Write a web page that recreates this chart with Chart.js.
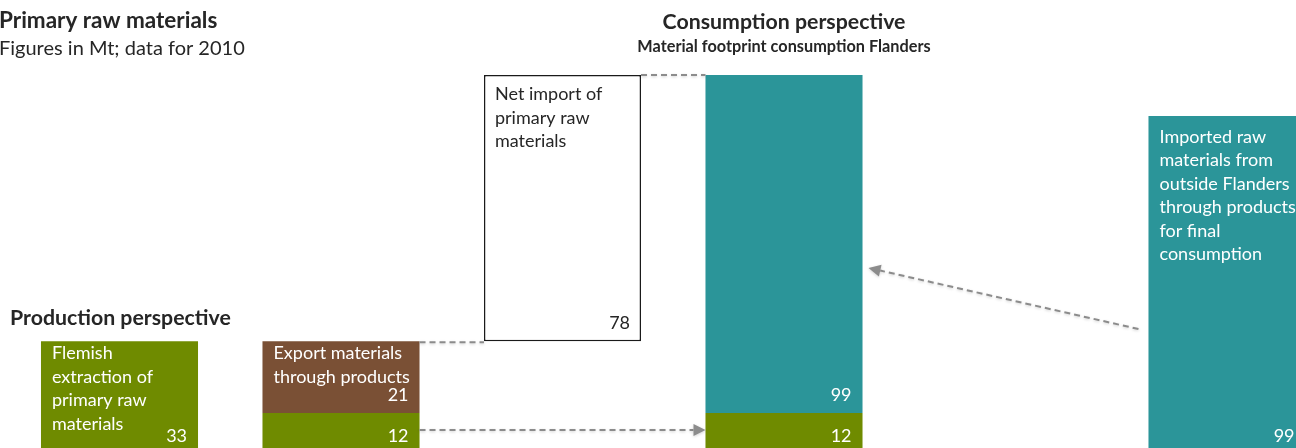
<!DOCTYPE html>
<html>
<head>
<meta charset="utf-8">
<script src="https://cdn.jsdelivr.net/npm/chart.js@4"></script>
<style>
  html, body { margin: 0; padding: 0; width: 1296px; height: 448px; overflow: hidden; background: #fff; }
  #wrap { position: absolute; left: 0; top: 0; width: 1400px; height: 470px; }
</style>
</head>
<body>
<div id="wrap"><canvas id="flowChart"></canvas></div>
<script>
// Figures in Mt, data for 2010
const categories = ['Flemish extraction', 'Export through products', 'Net import', 'Material footprint', '', 'Imported for final consumption'];
const domestic = [33, 12, null, 12, null, null];
const exported = [null, 21, null, null, null, null];
const importBase = [null, null, 33, null, null, null];
const netImport = [null, null, 78, null, null, null];
const imported = [null, null, null, 99, null, 99];

const domesticText = [['Flemish', 'extraction of', 'primary raw', 'materials'], null, null, null, null, null];
const exportedText = [null, ['Export materials', 'through products'], null, null, null, null];
const netImportText = [null, null, ['Net import of', 'primary raw', 'materials'], null, null, null];
const importedText = [null, null, null, null, null, ['Imported raw', 'materials from', 'outside Flanders', 'through products', 'for final', 'consumption']];

const GREEN = '#6F8B00';
const BROWN = '#7A5035';
const TEAL = '#2B9599';
const FONT = 'Lato, "Open Sans", sans-serif';

function dashedArrow(ctx, x1, y1, x2, y2, head) {
    ctx.save();
    ctx.strokeStyle = '#8c8c8c';
    ctx.fillStyle = '#8c8c8c';
    ctx.lineWidth = 2;
    ctx.shadowColor = 'rgba(0,0,0,0.18)';
    ctx.shadowBlur = 3;
    ctx.shadowOffsetY = 1;
    const ang = Math.atan2(y2 - y1, x2 - x1);
    const len = head ? 12 : 0;
    ctx.setLineDash([6, 4]);
    ctx.beginPath();
    ctx.moveTo(x1, y1);
    ctx.lineTo(x2 - Math.cos(ang) * len, y2 - Math.sin(ang) * len);
    ctx.stroke();
    if (head) {
        ctx.setLineDash([]);
        ctx.beginPath();
        ctx.moveTo(x2, y2);
        ctx.lineTo(x2 - Math.cos(ang) * len - Math.sin(ang) * 6, y2 - Math.sin(ang) * len + Math.cos(ang) * 6);
        ctx.lineTo(x2 - Math.cos(ang) * len + Math.sin(ang) * 6, y2 - Math.sin(ang) * len - Math.cos(ang) * 6);
        ctx.closePath();
        ctx.fill();
    }
    ctx.restore();
}

const annotations = {
    id: 'annotations',
    afterDatasetsDraw(chart) {
        const ctx = chart.ctx;
        const y = chart.scales.y;

        // text inside the bars
        chart.data.datasets.forEach((ds, di) => {
            if (ds.skipLabels) return;
            const meta = chart.getDatasetMeta(di);
            meta.data.forEach((el, i) => {
                if (ds.data[i] == null) return;
                const left = el.x - el.width / 2;
                const right = el.x + el.width / 2;
                const top = Math.min(el.y, el.base);
                const bottom = Math.max(el.y, el.base);
                ctx.save();
                ctx.fillStyle = ds.textColor;
                ctx.font = '18px ' + FONT;
                ctx.textBaseline = 'alphabetic';
                const lines = ds.texts && ds.texts[i];
                if (lines) {
                    ctx.textAlign = 'left';
                    lines.forEach((t, k) => ctx.fillText(t, left + 11, top + ds.padTop + k * 23.5));
                }
                ctx.textAlign = 'right';
                ctx.fillText(String(ds.data[i]), right - 11, bottom - 12);
                ctx.restore();
            });
        });

        const m0 = chart.getDatasetMeta(0).data;
        const m1 = chart.getDatasetMeta(1).data;
        const m3 = chart.getDatasetMeta(3).data;
        const m4 = chart.getDatasetMeta(4).data;
        const rightOf = el => el.x + el.width / 2;
        const leftOf = el => el.x - el.width / 2;

        // export top -> net import bottom
        dashedArrow(ctx, rightOf(m1[1]), m1[1].y + 1, leftOf(m3[2]), m1[1].y + 1, false);
        // net import top -> footprint top
        dashedArrow(ctx, rightOf(m3[2]), m3[2].y, leftOf(m4[3]), m3[2].y, false);
        // domestic use -> footprint
        dashedArrow(ctx, rightOf(m0[1]), m0[1].y + 17, leftOf(m0[3]), m0[1].y + 17, true);
        // imported -> footprint
        dashedArrow(ctx, leftOf(m4[5]) - 10, y.getPixelForValue(36.6), rightOf(m4[3]) + 6, y.getPixelForValue(54.5), true);

        // titles
        ctx.save();
        ctx.fillStyle = '#262626';
        ctx.textBaseline = 'alphabetic';
        ctx.textAlign = 'left';
        ctx.font = 'bold 22.5px ' + FONT;
        ctx.fillText('Primary raw materials', -1, 28);
        ctx.font = '20px ' + FONT;
        ctx.fillText('Figures in Mt; data for 2010', -1, 55);
        ctx.font = 'bold 21.3px ' + FONT;
        ctx.fillText('Production perspective', 10, 325);
        ctx.textAlign = 'center';
        const cx = m4[3].x;
        ctx.fillText('Consumption perspective', cx, 29);
        ctx.font = 'bold 16.3px ' + FONT;
        ctx.fillText('Material footprint consumption Flanders', cx, 52);
        ctx.restore();
    }
};

new Chart(document.getElementById('flowChart'), {
    type: 'bar',
    data: {
        labels: categories,
        datasets: [
            { label: 'Flemish extraction', data: domestic, backgroundColor: GREEN, texts: domesticText, textColor: '#fff', padTop: 18 },
            { label: 'Export through products', data: exported, backgroundColor: BROWN, texts: exportedText, textColor: '#fff', padTop: 18 },
            { label: 'base', data: importBase, backgroundColor: 'rgba(0,0,0,0)', skipLabels: true },
            { label: 'Net import', data: netImport, backgroundColor: '#fff', borderColor: '#1a1a1a', borderWidth: 1.5, borderSkipped: false, texts: netImportText, textColor: '#262626', padTop: 25 },
            { label: 'Imported', data: imported, backgroundColor: TEAL, texts: importedText, textColor: '#fff', padTop: 27 }
        ]
    },
    options: {
        responsive: true,
        maintainAspectRatio: false,
        animation: false,
        categoryPercentage: 1,
        barPercentage: 0.709,
        layout: { padding: { left: 8.75, right: 62.25, top: 44.3, bottom: 16 } },
        plugins: {
            legend: { display: false },
            tooltip: { enabled: false }
        },
        scales: {
            x: { stacked: true, display: false },
            y: { stacked: true, display: false, min: 0, max: 120 }
        }
    },
    plugins: [annotations]
});
</script>
</body>
</html>
